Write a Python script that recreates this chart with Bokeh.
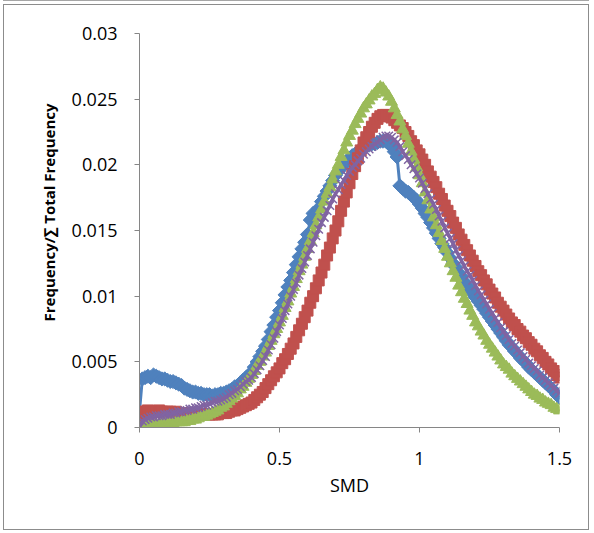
from bokeh.plotting import figure
from bokeh.models import FixedTicker, CustomJSTickFormatter, Title
from bokeh.embed import file_html
from bokeh.resources import INLINE
import numpy as np

# SMD grid (0 to 1.5, step 0.01)
smd = [round(i * 0.01, 2) for i in range(151)]

series_blue = [
    0.0012, 0.0037, 0.0038, 0.0039, 0.0038, 0.0040, 0.0039, 0.0038, 0.0037, 0.0037,
    0.0036, 0.0035, 0.0035, 0.0034, 0.0033, 0.0032, 0.0030, 0.0029, 0.0028, 0.0027,
    0.0027, 0.0026, 0.0026, 0.0025, 0.0025, 0.0025, 0.0024, 0.0025, 0.0025, 0.0026,
    0.0026, 0.0027, 0.0028, 0.0029, 0.0031, 0.0032, 0.0034, 0.0036, 0.0038, 0.0040,
    0.0042, 0.0046, 0.0050, 0.0054, 0.0058, 0.0062, 0.0067, 0.0073, 0.0078, 0.0084,
    0.0089, 0.0095, 0.0101, 0.0107, 0.0112, 0.0118, 0.0124, 0.0130, 0.0136, 0.0141,
    0.0147, 0.0158, 0.0163, 0.0162, 0.0167, 0.0172, 0.0176, 0.0180, 0.0184, 0.0188,
    0.0192, 0.0195, 0.0198, 0.0200, 0.0203, 0.0205, 0.0207, 0.0208, 0.0210, 0.0212,
    0.0213, 0.0214, 0.0215, 0.0216, 0.0216, 0.0217, 0.0218, 0.0218, 0.0218, 0.0216,
    0.0214, 0.0210, 0.0206, 0.0184, 0.0182, 0.0180, 0.0179, 0.0177, 0.0175, 0.0173,
    0.0170, 0.0167, 0.0163, 0.0160, 0.0156, 0.0152, 0.0148, 0.0144, 0.0140, 0.0137,
    0.0133, 0.0129, 0.0125, 0.0122, 0.0118, 0.0115, 0.0111, 0.0108, 0.0105, 0.0102,
    0.0099, 0.0096, 0.0093, 0.0090, 0.0087, 0.0084, 0.0081, 0.0078, 0.0075, 0.0072,
    0.0069, 0.0066, 0.0063, 0.0061, 0.0058, 0.0056, 0.0053, 0.0051, 0.0049, 0.0046,
    0.0044, 0.0042, 0.0040, 0.0038, 0.0036, 0.0034, 0.0032, 0.0030, 0.0028, 0.0025,
    0.0023,
]

series_red = [
    0.0003, 0.0012, 0.0012, 0.0013, 0.0012, 0.0012, 0.0012, 0.0013, 0.0012, 0.0012,
    0.0012, 0.0012, 0.0011, 0.0012, 0.0011, 0.0011, 0.0011, 0.0011, 0.0010, 0.0010,
    0.0010, 0.0010, 0.0010, 0.0010, 0.0010, 0.0010, 0.0010, 0.0010, 0.0010, 0.0011,
    0.0011, 0.0011, 0.0012, 0.0013, 0.0013, 0.0014, 0.0015, 0.0016, 0.0017, 0.0018,
    0.0019, 0.0021, 0.0023, 0.0025, 0.0027, 0.0030, 0.0033, 0.0036, 0.0039, 0.0042,
    0.0045, 0.0049, 0.0052, 0.0056, 0.0060, 0.0064, 0.0069, 0.0074, 0.0079, 0.0084,
    0.0089, 0.0095, 0.0100, 0.0106, 0.0112, 0.0118, 0.0124, 0.0131, 0.0137, 0.0144,
    0.0150, 0.0157, 0.0165, 0.0172, 0.0179, 0.0186, 0.0193, 0.0199, 0.0205, 0.0211,
    0.0217, 0.0221, 0.0225, 0.0229, 0.0232, 0.0235, 0.0237, 0.0238, 0.0238, 0.0237,
    0.0236, 0.0234, 0.0232, 0.0230, 0.0228, 0.0225, 0.0222, 0.0218, 0.0215, 0.0211,
    0.0208, 0.0204, 0.0200, 0.0195, 0.0191, 0.0187, 0.0183, 0.0178, 0.0174, 0.0169,
    0.0165, 0.0161, 0.0156, 0.0152, 0.0147, 0.0143, 0.0139, 0.0135, 0.0131, 0.0127,
    0.0123, 0.0119, 0.0116, 0.0112, 0.0109, 0.0105, 0.0102, 0.0099, 0.0095, 0.0092,
    0.0089, 0.0086, 0.0083, 0.0080, 0.0078, 0.0075, 0.0073, 0.0070, 0.0068, 0.0065,
    0.0063, 0.0060, 0.0058, 0.0055, 0.0053, 0.0050, 0.0048, 0.0045, 0.0043, 0.0040,
    0.0038,
]

series_green = [
    0.0000, 0.0001, 0.0001, 0.0001, 0.0002, 0.0002, 0.0002, 0.0002, 0.0003, 0.0003,
    0.0003, 0.0003, 0.0003, 0.0004, 0.0004, 0.0004, 0.0004, 0.0005, 0.0005, 0.0006,
    0.0006, 0.0007, 0.0008, 0.0008, 0.0009, 0.0010, 0.0011, 0.0012, 0.0013, 0.0015,
    0.0016, 0.0018, 0.0020, 0.0022, 0.0024, 0.0026, 0.0029, 0.0031, 0.0034, 0.0037,
    0.0040, 0.0043, 0.0047, 0.0050, 0.0054, 0.0057, 0.0062, 0.0066, 0.0071, 0.0075,
    0.0080, 0.0085, 0.0091, 0.0096, 0.0102, 0.0107, 0.0113, 0.0119, 0.0124, 0.0130,
    0.0136, 0.0142, 0.0148, 0.0154, 0.0160, 0.0166, 0.0172, 0.0178, 0.0183, 0.0189,
    0.0195, 0.0200, 0.0206, 0.0211, 0.0217, 0.0222, 0.0226, 0.0231, 0.0235, 0.0239,
    0.0243, 0.0246, 0.0249, 0.0252, 0.0254, 0.0257, 0.0259, 0.0258, 0.0255, 0.0252,
    0.0248, 0.0243, 0.0238, 0.0233, 0.0227, 0.0222, 0.0216, 0.0210, 0.0204, 0.0198,
    0.0192, 0.0186, 0.0179, 0.0173, 0.0166, 0.0160, 0.0154, 0.0148, 0.0142, 0.0136,
    0.0130, 0.0125, 0.0119, 0.0114, 0.0108, 0.0103, 0.0098, 0.0094, 0.0089, 0.0085,
    0.0080, 0.0077, 0.0073, 0.0070, 0.0066, 0.0063, 0.0060, 0.0057, 0.0054, 0.0051,
    0.0048, 0.0046, 0.0044, 0.0041, 0.0039, 0.0037, 0.0035, 0.0033, 0.0031, 0.0029,
    0.0027, 0.0025, 0.0024, 0.0022, 0.0021, 0.0019, 0.0018, 0.0017, 0.0015, 0.0014,
    0.0013,
]

series_purple = [
    0.0000, 0.0005, 0.0006, 0.0007, 0.0008, 0.0008, 0.0009, 0.0009, 0.0009, 0.0010,
    0.0010, 0.0010, 0.0011, 0.0011, 0.0012, 0.0012, 0.0013, 0.0013, 0.0014, 0.0014,
    0.0015, 0.0015, 0.0016, 0.0017, 0.0017, 0.0018, 0.0019, 0.0020, 0.0020, 0.0021,
    0.0022, 0.0023, 0.0025, 0.0026, 0.0028, 0.0029, 0.0031, 0.0033, 0.0035, 0.0036,
    0.0038, 0.0041, 0.0044, 0.0047, 0.0051, 0.0054, 0.0059, 0.0063, 0.0068, 0.0073,
    0.0078, 0.0083, 0.0089, 0.0094, 0.0100, 0.0105, 0.0110, 0.0116, 0.0121, 0.0126,
    0.0131, 0.0136, 0.0141, 0.0146, 0.0151, 0.0156, 0.0160, 0.0165, 0.0169, 0.0174,
    0.0178, 0.0181, 0.0185, 0.0188, 0.0192, 0.0195, 0.0198, 0.0200, 0.0203, 0.0205,
    0.0208, 0.0210, 0.0212, 0.0214, 0.0216, 0.0217, 0.0219, 0.0221, 0.0222, 0.0222,
    0.0221, 0.0219, 0.0217, 0.0214, 0.0210, 0.0207, 0.0204, 0.0200, 0.0197, 0.0193,
    0.0190, 0.0186, 0.0182, 0.0178, 0.0174, 0.0170, 0.0166, 0.0161, 0.0157, 0.0152,
    0.0148, 0.0144, 0.0140, 0.0135, 0.0131, 0.0127, 0.0123, 0.0119, 0.0116, 0.0112,
    0.0108, 0.0104, 0.0101, 0.0097, 0.0094, 0.0090, 0.0087, 0.0083, 0.0080, 0.0076,
    0.0073, 0.0070, 0.0067, 0.0064, 0.0062, 0.0059, 0.0057, 0.0054, 0.0052, 0.0049,
    0.0047, 0.0045, 0.0043, 0.0040, 0.0038, 0.0036, 0.0034, 0.0032, 0.0030, 0.0028,
    0.0026,
]

x_ticks = [0, 0.5, 1, 1.5]
y_ticks = [0, 0.005, 0.01, 0.015, 0.02, 0.025, 0.03]

BLUE = "#4F81BD"
RED = "#C0504D"
GREEN = "#9BBB59"
PURPLE = "#8064A2"
AXIS = "#868686"
FONT = "Open Sans"

p = figure(width=586, height=526, output_backend="svg", toolbar_location=None,
           x_range=(0, 1.5), y_range=(0, 0.03),
           min_border_left=135, min_border_right=31, min_border_top=28, min_border_bottom=104)
p.styles = {"margin-left": "3px", "margin-top": "4px", "border": "1px solid #8c8c8c",
            "box-shadow": "0 -3px 0 0 #ffffff, 0 -4px 0 0 #a6a6a6"}
p.outline_line_color = None
p.xgrid.visible = False
p.ygrid.visible = False
p.background_fill_color = "white"
p.border_fill_color = "white"

# series 1: blue diamonds
p.line(smd, series_blue, line_color=BLUE, line_width=3)
p.scatter(smd, series_blue, marker="square", angle=np.pi / 4, size=10,
          fill_color=BLUE, line_color=BLUE)
# series 2: red squares
p.line(smd, series_red, line_color=RED, line_width=3)
p.scatter(smd, series_red, marker="square", size=11, fill_color=RED, line_color=RED)
# series 3: green triangles
p.line(smd, series_green, line_color=GREEN, line_width=3)
p.scatter(smd, series_green, marker="triangle", size=12, fill_color=GREEN, line_color=GREEN)
# series 4: purple x
p.line(smd, series_purple, line_color=PURPLE, line_width=3.5)
p.scatter(smd, series_purple, marker="x", size=12, line_color=PURPLE, line_width=1.5)

fmt = CustomJSTickFormatter(code="return String(tick);")
for ax, ticks in ((p.xaxis[0], x_ticks), (p.yaxis[0], y_ticks)):
    ax.ticker = FixedTicker(ticks=ticks)
    ax.formatter = fmt
    ax.axis_line_color = AXIS
    ax.major_tick_line_color = AXIS
    ax.major_tick_out = 5
    ax.major_tick_in = 0
    ax.minor_tick_line_color = None
    ax.major_label_text_font = FONT
    ax.major_label_text_font_size = "18px"
    ax.major_label_text_color = "#000000"

p.xaxis.major_label_standoff = 19
p.yaxis.major_label_standoff = 17

p.xaxis.axis_label = "SMD"
p.xaxis.axis_label_text_font = FONT
p.xaxis.axis_label_text_font_size = "18px"
p.xaxis.axis_label_text_font_style = "normal"
p.xaxis.axis_label_text_color = "#000000"
p.xaxis.axis_label_standoff = 5

p.add_layout(Title(text="Frequency/\u2211 Total Frequency", align="left", offset=106,
                   text_font=FONT, text_font_size="15px", text_font_style="bold",
                   text_color="#000000", standoff=20), "left")

open("out.html", "w").write(file_html(p, INLINE))
